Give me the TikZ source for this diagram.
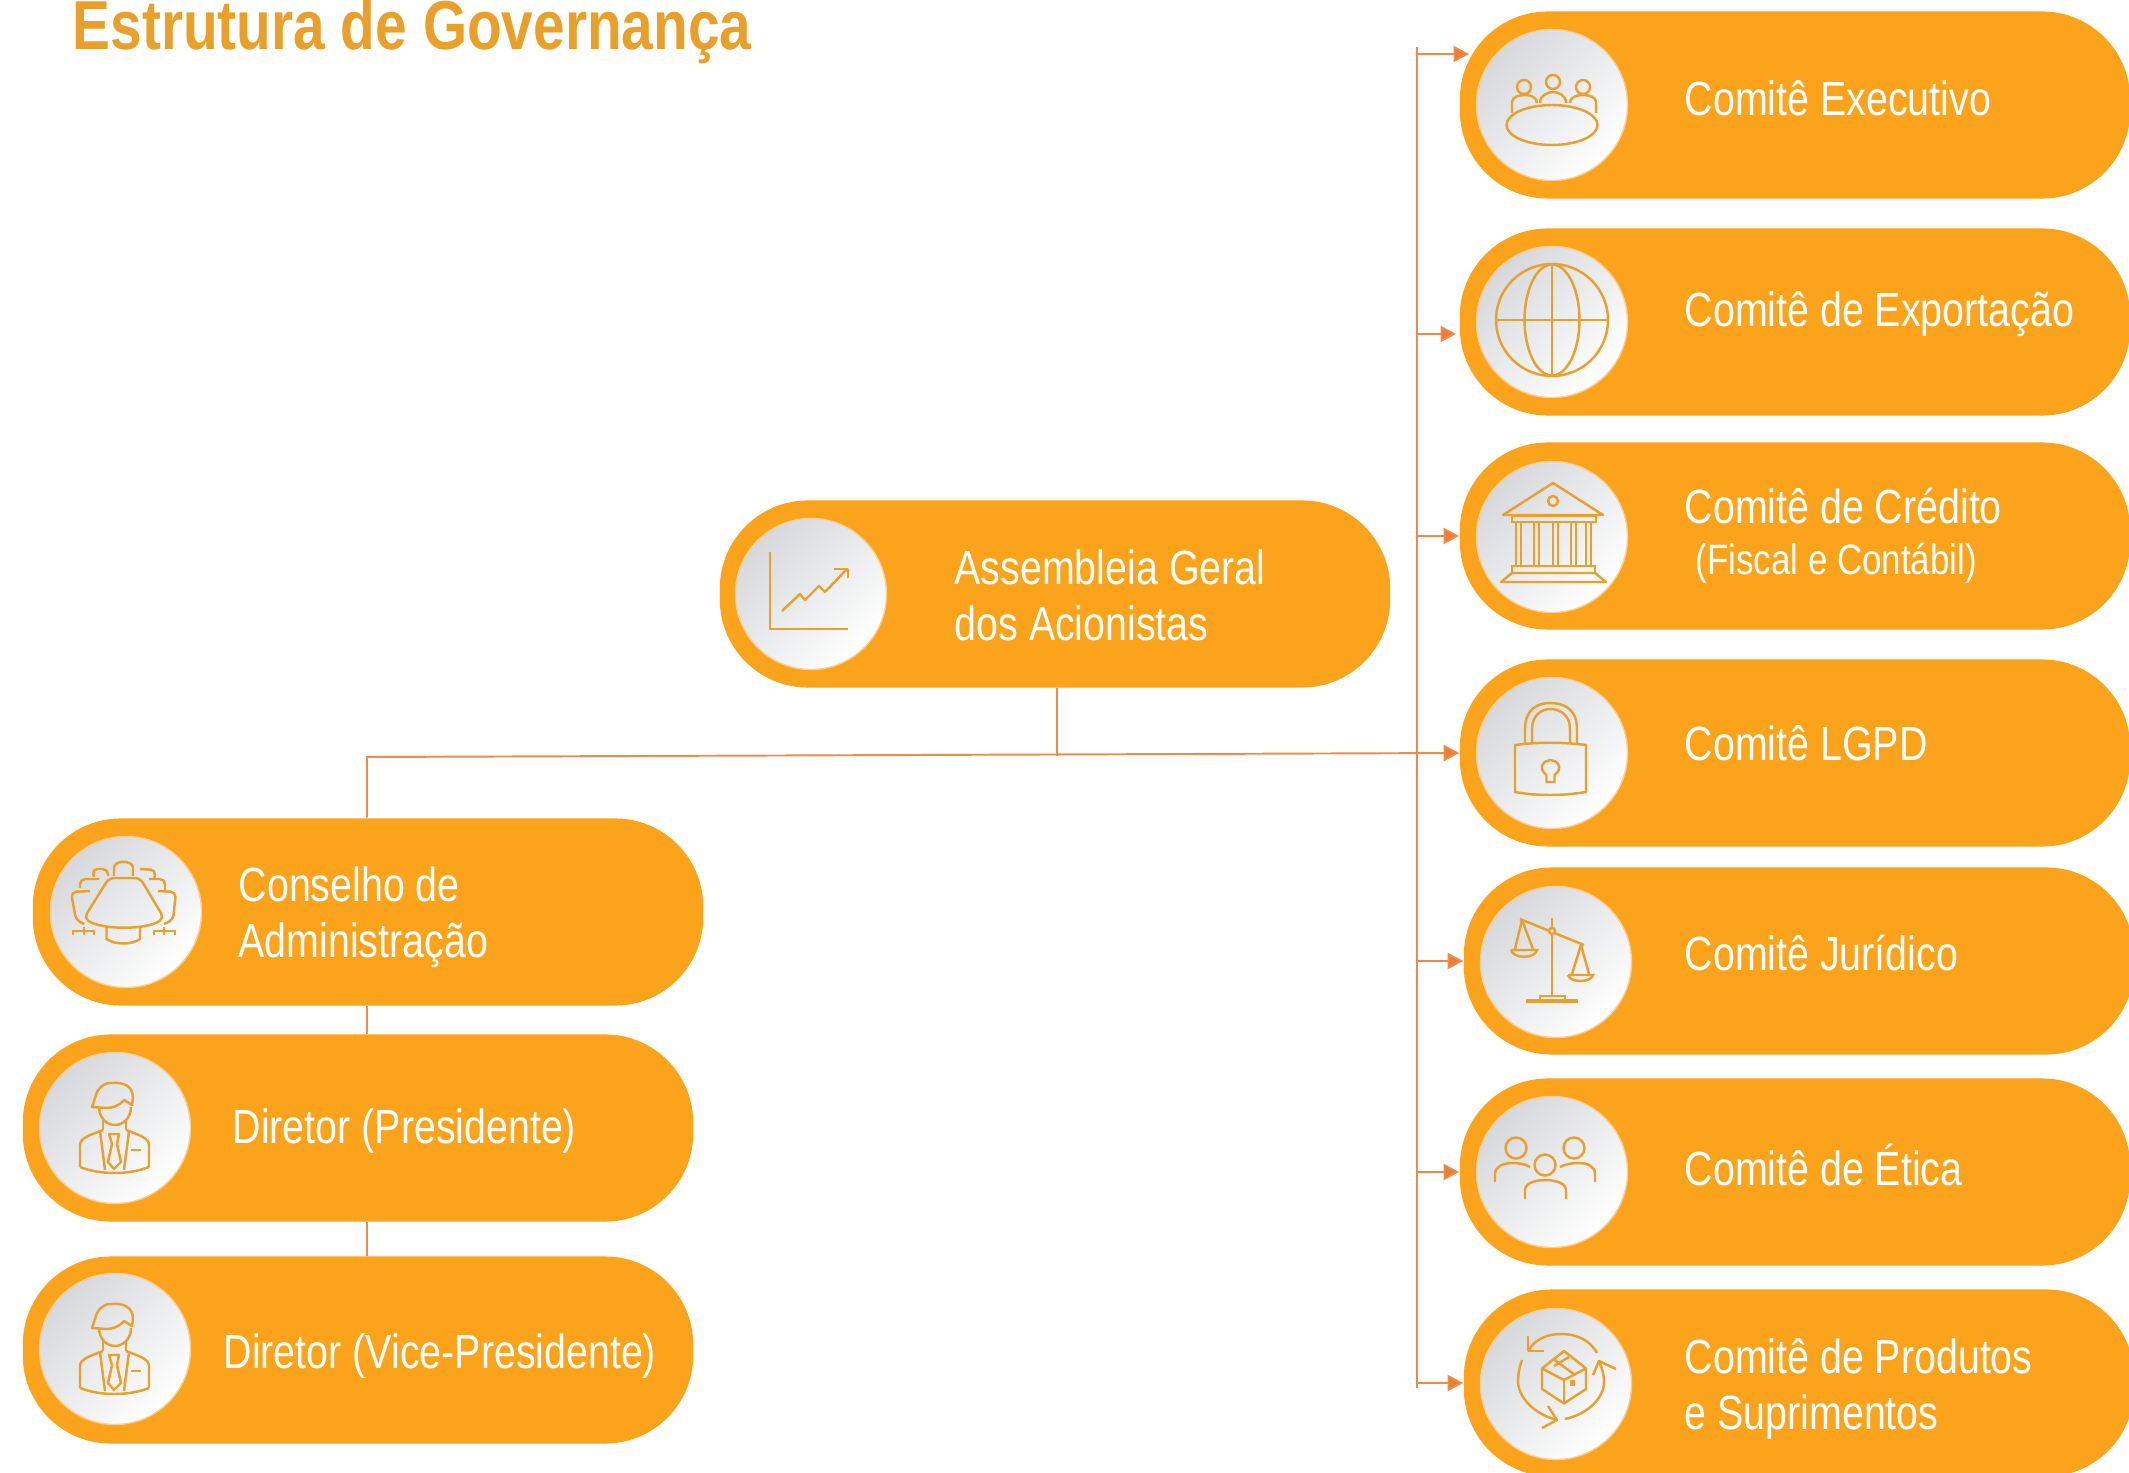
\documentclass[tikz,border=0pt]{standalone}
\usepackage{fontspec}
\setmainfont[FakeStretch=0.82]{Liberation Sans}
\usepackage{tikz}
\usetikzlibrary{arrows.meta}
\usetikzlibrary{positioning}
\definecolor{pillorange}{HTML}{FBA31A}
\definecolor{titleorange}{HTML}{E9A029}
\definecolor{iconorange}{HTML}{E8A12E}
\definecolor{linkorange}{HTML}{EE8A4C}
\definecolor{headorange}{HTML}{ED7D31}
\definecolor{ringpale}{HTML}{F8CF95}
\definecolor{discdark}{HTML}{D6D8DB}
\definecolor{disclight}{HTML}{FFFFFF}

\begin{document}
\begin{tikzpicture}[x=0.01cm,y=-0.01cm,
  pill/.style={fill=pillorange,rounded corners=0.88cm,minimum width=6.7cm,minimum height=1.87cm,inner sep=0pt},
  disc/.style={circle,draw=ringpale,line width=0.4pt,minimum size=1.51cm,inner sep=0pt,top color=discdark,bottom color=disclight,shading angle=45},
  pilltext/.style={anchor=west,align=left,text=white,inner sep=0pt,font=\fontsize{13.65}{15.9}\selectfont},
  link/.style={draw=linkorange,line width=0.55pt},
  arrowlink/.style={link,-{Triangle[length=4.4pt,width=4.6pt,fill=headorange]}},
  icon/.style={draw=iconorange,line width=0.7pt},
  person/.pic={
    \draw[icon](-16,-21) .. controls (-16,-10) and (-8,-3) .. (0,-3) .. controls (8,-3) and (16,-10) .. (16,-21);
    \draw[icon,line join=round](-23,-21)--(-18,-36) .. controls (-14,-43) and (-8,-46) .. (-2,-45) .. controls (8,-46) and (18,-42) .. (18,-30)--(17,-23)--(9,-28) .. controls (4,-22) and (-3,-20) .. (-8,-20)--cycle;
    \draw[icon](-12,-8)--(-12,2);
    \draw[icon](11,-8)--(11,2);
    \draw[icon](-35,39)--(-35,17) .. controls (-35,10) and (-25,7) .. (-12,2);
    \draw[icon](34,39)--(34,17) .. controls (34,10) and (24,7) .. (11,2);
    \draw[icon](-35,39) .. controls (-15,47) and (14,47) .. (34,39);
    \draw[icon](-15,3)--(-10,42);
    \draw[icon](14,3)--(9,42);
    \draw[icon,line join=round](-6,6)--(4,6)--(2,16)--(6,34)--(-1,41)--(-7,34)--(-3,16)--cycle;
    \draw[icon](16,22)--(26,22);
  }]
\clip(0,0)rectangle(2129,1473);
\node[anchor=base west,text=titleorange,inner sep=0pt,font=\fontsize{19.7}{22}\selectfont\bfseries] (title) at (72,50) {Estrutura de Governança};
% pills on the right
\node (exec) at (1795,105)[pill]{};
\node (expo) at (1795,322)[pill]{};
\node (cred) at (1795,536)[pill]{};
\node (lgpd) at (1795,753)[pill]{};
\node (juri) at (1799,961)[pill]{};
\node (etic) at (1795,1172)[pill]{};
\node (prod) at (1799,1383)[pill]{};
% pills in the middle and on the left
\node (asm) at (1055,594)[pill]{};
\node (cons) at (368,912)[pill]{};
\node (pres) at (358,1128)[pill]{};
\node (vice) at (358,1350)[pill]{};
% discs
\node (execdisc) at (1552,105)[disc]{};
\node (expodisc) at (1552,322)[disc]{};
\node (creddisc) at (1552,537)[disc]{};
\node (lgpddisc) at (1552,753)[disc]{};
\node (juridisc) at (1556,962)[disc]{};
\node (eticdisc) at (1552,1172)[disc]{};
\node (proddisc) at (1556,1384)[disc]{};
\node (asmdisc) at (811,594)[disc]{};
\node (consdisc) at (126,912)[disc]{};
\node (presdisc) at (115,1128)[disc]{};
\node (vicedisc) at (115,1349)[disc]{};
% texts
\node (exectext) at (1684,98)[pilltext]{Comitê Executivo};
\node (expotext) at (1684,314)[pilltext]{Comitê de Exportação};
\node (credtext) at (1684,506)[pilltext]{Comitê de Crédito};
\node (fisctext) at (1695,563)[pilltext,font=\fontsize{12.1}{14}\selectfont]{(Fiscal e Contábil)};
\node (lgpdtext) at (1684,743)[pilltext]{Comitê LGPD};
\node (juritext) at (1684,953)[pilltext]{Comitê Jurídico};
\node (etictext) at (1684,1165)[pilltext]{Comitê de Ética};
\node (prodtext) at (1684,1389)[pilltext]{Comitê de Produtos\\e Suprimentos};
\node (asmtext) at (954,595)[pilltext]{Assembleia Geral\\dos Acionistas};
\node (constext) at (238,917)[pilltext]{Conselho de\\Administração};
\node (prestext) at (232,1131)[pilltext]{Diretor (Presidente)};
\node (vicetext) at (223,1356)[pilltext]{Diretor (Vice-Presidente)};
% connectors
\coordinate (bustop) at (1417,47);
\coordinate (busend) at (1417,1388);
\coordinate (trunk) at (367,757);
\coordinate (junc) at (1057,756);
\coordinate (execin) at (1469,54);
\coordinate (expoin) at (1456,334);
\draw[link](bustop)--(busend);
\draw[arrowlink](bustop |- execin)--(execin);
\draw[arrowlink](bustop |- expoin)--(expoin);
\draw[arrowlink](bustop |- cred)--(cred.west);
\draw[arrowlink](bustop |- juri)--(juri.west);
\draw[arrowlink](bustop |- etic)--(etic.west);
\draw[arrowlink](bustop |- prod)--(prod.west);
\draw[arrowlink](cons.north -| trunk)--(trunk)--(lgpd.west);
\draw[link](junc |- asm.south)--(junc);
\draw[link](trunk |- cons.south)--(trunk |- pres.north);
\draw[link](trunk |- pres.south)--(trunk |- vice.north);
% meeting table
\begin{scope}[shift={(execdisc.center)}]
\draw[icon](0,20) ellipse [x radius=45.5,y radius=20];
\draw[icon](1,-23) circle [radius=7];
\draw[icon](-28,-18) circle [radius=7];
\draw[icon](31,-18) circle [radius=7];
\draw[icon](-40,8)--(-40,-3) .. controls (-40,-8) and (-33,-10) .. (-27,-10) .. controls (-22,-10) and (-15,-8) .. (-15,-2);
\draw[icon](-12,-2) .. controls (-12,-10) and (-4,-13) .. (1,-13) .. controls (6,-13) and (14,-10) .. (14,-2);
\draw[icon](18,-2) .. controls (18,-8) and (25,-10) .. (31,-10) .. controls (37,-10) and (44,-8) .. (44,-3)--(44,8);
\end{scope}
% globe
\begin{scope}[shift={(expodisc.center)}]
\draw[icon](0,-2) circle [radius=56];
\draw[icon](0,-2) ellipse [x radius=27.5,y radius=55.5];
\draw[icon](0,-57.5)--(0,53.5);
\draw[icon](-56,-2)--(56,-2);
\end{scope}
% bank
\begin{scope}[shift={(creddisc.center)}]
\draw[icon,line join=round](1,-54)--(-49,-22)--(51,-22)--cycle;
\draw[icon](1,-36) circle [radius=5];
\draw[icon](-40,-21)rectangle(44,-15);
\foreach \colx in {-36,-18,1,19,34}{
  \draw[icon](\colx,-15)--(\colx,29);
  \draw[icon](\colx+5,-15)--(\colx+5,29);
}
\draw[icon](-40,29)rectangle(43,36);
\draw[icon,line join=round](-40,36)--(43,36)--(54,45)--(-51,45)--cycle;
\end{scope}
% lock
\begin{scope}[shift={(lgpddisc.center)}]
\draw[icon,line join=round](-37,-8) .. controls (-15,-11) and (10,-11) .. (34,-8)--(34,39) .. controls (10,43) and (-15,43) .. (-37,39)--cycle;
\draw[icon](-27,-10)--(-27,-24) .. controls (-27,-44) and (-14,-50) .. (-2,-50) .. controls (12,-50) and (25,-44) .. (25,-24)--(25,-10);
\draw[icon](-20,-10)--(-20,-24) .. controls (-20,-38) and (-10,-44) .. (-2,-44) .. controls (8,-44) and (18,-38) .. (18,-24)--(18,-10);
\draw[icon](-5.5,22)--(-5.5,29)--(2.5,29)--(2.5,22) .. controls (12,15) and (5,7) .. (-1.5,7) .. controls (-8,7) and (-15,15) .. (-5.5,22);
\end{scope}
% scales
\begin{scope}[shift={(juridisc.center)}]
\draw[icon](-4,-44)--(-4,33);
\draw[icon,line width=1pt](-30,39)--(22,39);
\draw[icon](-16,37)--(-16,34)--(9,34)--(9,37);
\draw[icon](-36,-43)--(28,-17);
\draw[icon,fill=white!94!black](-4,-31) circle [radius=3];
\draw[icon](-34,-42)--(-41,-13);
\draw[icon](-34,-42)--(-23,-13);
\draw[icon](-45,-12)--(-19,-12) .. controls (-21,-3) and (-43,-3) .. (-45,-12);
\draw[icon](25,-17)--(16,12);
\draw[icon](25,-17)--(33,12);
\draw[icon](12,13)--(37,13) .. controls (35,21) and (14,21) .. (12,13);
\end{scope}
% people
\begin{scope}[shift={(eticdisc.center)}]
\draw[icon](-36,-24) circle [radius=10.5];
\draw[icon](22,-24) circle [radius=10.5];
\draw[icon](-7,-7) circle [radius=10.5];
\draw[icon](-57,10)--(-57,2) .. controls (-57,-6) and (-47,-9) .. (-40,-9) .. controls (-33,-9) and (-27,-8) .. (-22,-5);
\draw[icon](8,-5) .. controls (13,-8) and (20,-9) .. (27,-9) .. controls (35,-9) and (43,-6) .. (43,2)--(43,10);
\draw[icon](-27,27)--(-27,18) .. controls (-27,11) and (-16,8) .. (-7,8) .. controls (3,8) and (14,11) .. (14,18)--(14,27);
\end{scope}
% box with arrows
\begin{scope}[shift={(proddisc.center)}]
\draw[icon,line join=round](8,-33)--(-14,-15.5)--(-14,5)--(8,19.5)--(30,5)--(30,-15.5)--cycle;
\draw[icon,line join=round](-14,-15.5)--(8,-4)--(30,-15.5);
\draw[icon](8,-4)--(8,19.5);
\draw[icon](-2.5,-25)--(19,-9);
\draw[icon](-2,-18)--(13,-27);
\draw[icon,fill=iconorange](15,-3)rectangle(18,1);
\draw[icon](-28,-33) .. controls (-20,-46) and (-8,-50) .. (6,-50) .. controls (20,-50) and (34,-44) .. (41,-31);
\draw[icon,line join=round](-28,-48)--(-28,-33)--(-12,-33);
\draw[icon](9,35) .. controls (32,30) and (48,14) .. (48,-2) .. controls (48,-9) and (46,-16) .. (43,-23);
\draw[icon,line join=round](37,-9)--(43,-23)--(60,-15);
\draw[icon](-34,-24) .. controls (-37,-16) and (-38,-8) .. (-38,-2) .. controls (-37,14) and (-22,30) .. (1,36);
\draw[icon,line join=round](-8,22)--(1,36)--(-14,44);
\end{scope}
% chart
\begin{scope}[shift={(asmdisc.center)}]
\draw[icon](-41,-42)--(-41,35)--(37,35);
\draw[icon,line join=round](-29,17)--(-11,0)--(-6,6)--(8,-8)--(14,-2)--(36,-25);
\draw[icon,line join=round](23,-25)--(37,-25)--(37,-16);
\end{scope}
% boardroom
\begin{scope}[shift={(consdisc.center)}]
\draw[icon,line join=round,rounded corners=1.5pt](-17,-34)--(14,-34)--(38,6) .. controls (20,18) and (-24,18) .. (-42,6)--cycle;
\draw[icon](-19.5,15)--(-19.5,27) .. controls (-10,33) and (5,33) .. (14,27)--(14,15);
\draw[icon](-12,-36)--(-12,-45) .. controls (-10,-52) and (5,-52) .. (7,-45)--(7,-36);
\draw[icon,rounded corners=1.5pt](-32,-35)--(-34,-43)--(-18,-43)--(-18,-36);
\draw[icon,rounded corners=1.5pt](14,-43)--(30,-42)--(28,-33);
\draw[icon,rounded corners=1.5pt](-46,-24)--(-46,-33)--(-27,-33);
\draw[icon,rounded corners=1.5pt](23,-33)--(39,-33)--(39,-22);
\draw[icon,rounded corners=1.5pt](-36,-21)--(-55,-20)--(-50,8)--(-42,12);
\draw[icon,rounded corners=1.5pt](32,-21)--(50,-20)--(47,8)--(38,12);
\draw[icon](-53,23)--(-53,19)--(-32,19)--(-32,23);
\draw[icon](-42,15)--(-42,23);
\draw[icon](28,23)--(28,19)--(49,19)--(49,23);
\draw[icon](38,15)--(38,23);
\end{scope}
% the two directors
\pic at (presdisc.center) {person};
\pic at (vicedisc.center) {person};
\end{tikzpicture}
\end{document}
